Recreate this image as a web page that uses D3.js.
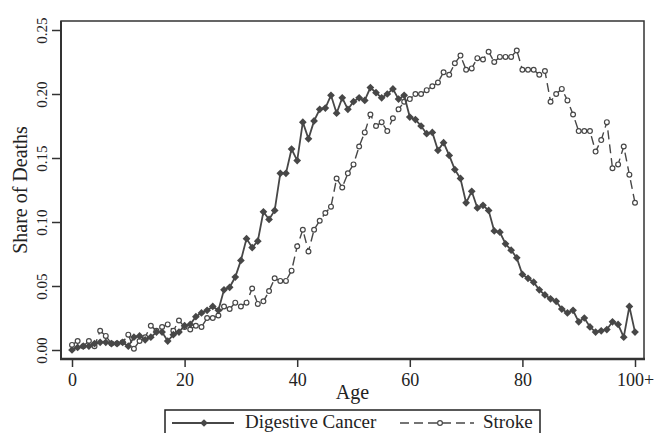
<!DOCTYPE html>
<html>
<head>
<meta charset="utf-8">
<script src="https://cdn.jsdelivr.net/npm/d3@7"></script>
<style>
  body { margin: 0; background: #fff; }
  svg { display: block; font-family: "Liberation Serif", "DejaVu Serif", serif; }
</style>
</head>
<body>
<div id="chart"></div>
<script>
// Data -------------------------------------------------------------------------------------------

var ages = d3.range(0, 101);

var digestiveCancer = [
  0.000, 0.002, 0.003, 0.003, 0.005, 0.006, 0.006, 0.005, 0.005, 0.006,
  0.003, 0.010, 0.011, 0.008, 0.010, 0.014, 0.014, 0.007, 0.012, 0.014,
  0.019, 0.020, 0.026, 0.029, 0.031, 0.034, 0.031, 0.047, 0.049, 0.057,
  0.070, 0.087, 0.080, 0.085, 0.108, 0.102, 0.109, 0.138, 0.138, 0.157,
  0.148, 0.178, 0.165, 0.179, 0.188, 0.189, 0.199, 0.185, 0.197, 0.188,
  0.194, 0.197, 0.195, 0.205, 0.201, 0.197, 0.200, 0.204, 0.196, 0.199,
  0.182, 0.180, 0.175, 0.169, 0.170, 0.156, 0.162, 0.152, 0.141, 0.134,
  0.115, 0.124, 0.111, 0.113, 0.109, 0.093, 0.092, 0.083, 0.078, 0.072,
  0.059, 0.056, 0.053, 0.047, 0.043, 0.040, 0.038, 0.032, 0.029, 0.031,
  0.022, 0.025, 0.018, 0.014, 0.015, 0.016, 0.022, 0.020, 0.010, 0.034,
  0.014
];

var stroke = [
  0.004, 0.007, 0.003, 0.007, 0.003, 0.015, 0.011, 0.005, 0.005, 0.006,
  0.012, 0.001, 0.007, 0.010, 0.019, 0.015, 0.018, 0.020, 0.015, 0.023,
  0.018, 0.016, 0.019, 0.018, 0.025, 0.025, 0.027, 0.034, 0.032, 0.037,
  0.034, 0.037, 0.048, 0.036, 0.038, 0.046, 0.056, 0.054, 0.054, 0.062,
  0.081, 0.094, 0.077, 0.094, 0.101, 0.107, 0.112, 0.134, 0.127, 0.138,
  0.145, 0.159, 0.170, 0.184, 0.175, 0.178, 0.171, 0.181, 0.188, 0.194,
  0.196, 0.200, 0.200, 0.203, 0.206, 0.209, 0.217, 0.215, 0.224, 0.230,
  0.219, 0.220, 0.228, 0.227, 0.233, 0.225, 0.229, 0.229, 0.229, 0.234,
  0.219, 0.219, 0.219, 0.215, 0.218, 0.194, 0.200, 0.204, 0.195, 0.184,
  0.171, 0.171, 0.171, 0.155, 0.164, 0.178, 0.142, 0.145, 0.159, 0.137,
  0.115
];

var xTicks = [0, 20, 40, 60, 80, 100];
var xTickLabels = ["0", "20", "40", "60", "80", "100+"];
var yTicks = [0, 0.05, 0.10, 0.15, 0.20, 0.25];
var seriesNames = ["Digestive Cancer", "Stroke"];

// Chart ------------------------------------------------------------------------------------------

var width = 655, height = 433;
var ink = "#474747";
var frame = {left: 61, right: 644, top: 21, bottom: 359};

var svg = d3.select("#chart").append("svg")
  .attr("width", width)
  .attr("height", height);

var x = d3.scaleLinear().domain([0, 100]).range([72, 635]);
var y = d3.scaleLinear().domain([0, 0.25]).range([350, 30]);

// frame
svg.append("rect")
  .attr("x", frame.left)
  .attr("y", frame.top)
  .attr("width", frame.right - frame.left)
  .attr("height", frame.bottom - frame.top)
  .attr("fill", "none")
  .attr("stroke", "#333")
  .attr("stroke-width", 1.5);

// thicker axis lines
svg.append("line")
  .attr("x1", frame.left).attr("x2", frame.left)
  .attr("y1", frame.top).attr("y2", frame.bottom)
  .attr("stroke", "#333").attr("stroke-width", 2);
svg.append("line")
  .attr("x1", frame.left - 1).attr("x2", frame.right + 1)
  .attr("y1", frame.bottom).attr("y2", frame.bottom)
  .attr("stroke", "#333").attr("stroke-width", 2.5);

// x axis
var xAxis = svg.append("g")
  .attr("transform", "translate(0," + frame.bottom + ")")
  .call(d3.axisBottom(x)
    .tickValues(xTicks)
    .tickSize(8)
    .tickPadding(6)
    .tickFormat(function(d, i) { return xTickLabels[i]; }));
xAxis.select(".domain").remove();
xAxis.selectAll("line").attr("stroke", "#333").attr("stroke-width", 1.5);
xAxis.selectAll("text")
  .attr("fill", "#222")
  .style("font-family", "Liberation Serif")
  .style("font-size", "18px");

// y axis
var yAxis = svg.append("g")
  .attr("transform", "translate(" + frame.left + ",0)")
  .call(d3.axisLeft(y)
    .tickValues(yTicks)
    .tickSize(9)
    .tickFormat(d3.format(".2f")));
yAxis.select(".domain").remove();
yAxis.selectAll("line").attr("stroke", "#333").attr("stroke-width", 1.5);
yAxis.selectAll("text")
  .attr("x", null).attr("dy", null)
  .attr("fill", "#222")
  .attr("text-anchor", "middle")
  .attr("transform", "translate(-14,0) rotate(-90)")
  .style("font-family", "Liberation Serif")
  .style("font-size", "15px");

// axis titles
svg.append("text")
  .attr("x", (frame.left + frame.right) / 2)
  .attr("y", 399)
  .attr("text-anchor", "middle")
  .attr("fill", "#222")
  .style("font-size", "20px")
  .text("Age");

svg.append("text")
  .attr("transform", "translate(27," + (frame.top + frame.bottom) / 2 + ") rotate(-90)")
  .attr("text-anchor", "middle")
  .attr("fill", "#222")
  .style("font-size", "20px")
  .text("Share of Deaths");

// series
var cancerData = ages.map(function(a, i) { return {age: a, v: digestiveCancer[i]}; });
var strokeData = ages.map(function(a, i) { return {age: a, v: stroke[i]}; });

var line = d3.line()
  .x(function(d) { return x(d.age); })
  .y(function(d) { return y(d.v); });

// square turned 45 degrees = even diamond
var diamond = d3.symbol().type(d3.symbolSquare).size(30);

svg.append("path")
  .datum(strokeData)
  .attr("d", line)
  .attr("fill", "none")
  .attr("stroke", ink)
  .attr("stroke-width", 1.4)
  .attr("stroke-dasharray", "9,5");

svg.append("g").selectAll("circle")
  .data(strokeData)
  .enter()
  .append("circle")
    .attr("cx", function(d) { return x(d.age); })
    .attr("cy", function(d) { return y(d.v); })
    .attr("r", 2.4)
    .attr("fill", "#fff")
    .attr("stroke", ink)
    .attr("stroke-width", 1.2);

svg.append("path")
  .datum(cancerData)
  .attr("d", line)
  .attr("fill", "none")
  .attr("stroke", ink)
  .attr("stroke-width", 1.8);

svg.append("g").selectAll("path")
  .data(cancerData)
  .enter()
  .append("path")
    .attr("d", diamond)
    .attr("transform", function(d) { return "translate(" + x(d.age) + "," + y(d.v) + ") rotate(45)"; })
    .attr("fill", ink);

// legend
var legend = svg.append("g");
legend.append("rect")
  .attr("x", 165).attr("y", 410)
  .attr("width", 375).attr("height", 40)
  .attr("fill", "#fff")
  .attr("stroke", "#222")
  .attr("stroke-width", 1.5);

var ly = 423;
legend.append("line")
  .attr("x1", 172).attr("x2", 234).attr("y1", ly).attr("y2", ly)
  .attr("stroke", ink).attr("stroke-width", 1.8);
legend.append("path")
  .attr("d", diamond)
  .attr("transform", "translate(204," + ly + ") rotate(45)")
  .attr("fill", ink);
legend.append("text")
  .attr("x", 245).attr("y", ly + 5)
  .attr("fill", "#222")
  .style("font-size", "19px")
  .text(seriesNames[0]);

legend.append("line")
  .attr("x1", 400).attr("x2", 474).attr("y1", ly).attr("y2", ly)
  .attr("stroke", ink).attr("stroke-width", 1.4)
  .attr("stroke-dasharray", "9,5");
legend.append("circle")
  .attr("cx", 440).attr("cy", ly).attr("r", 2.4)
  .attr("fill", "#fff").attr("stroke", ink).attr("stroke-width", 1.2);
legend.append("text")
  .attr("x", 483).attr("y", ly + 5)
  .attr("fill", "#222")
  .style("font-size", "19px")
  .text(seriesNames[1]);
</script>
</body>
</html>
